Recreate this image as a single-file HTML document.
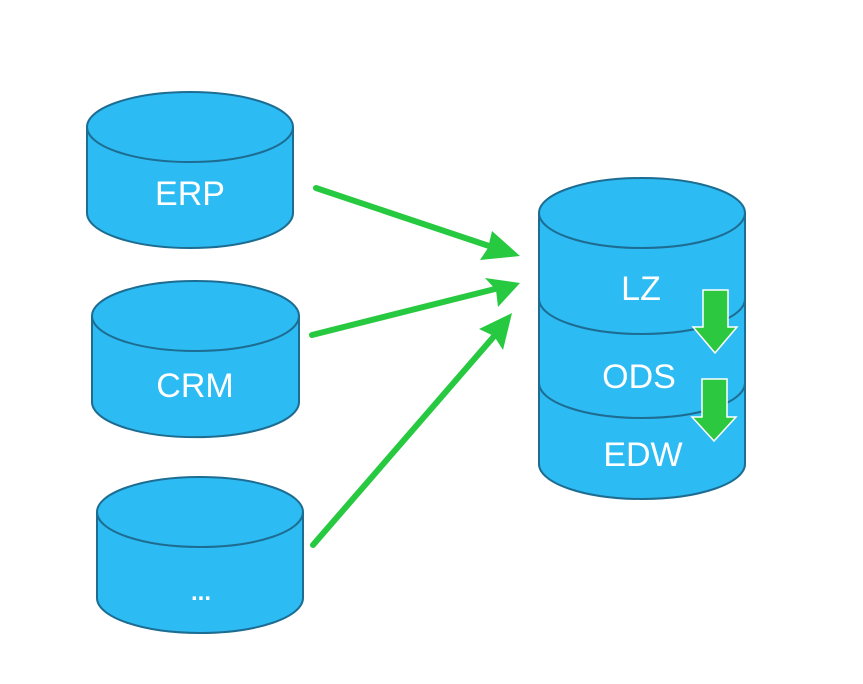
<!DOCTYPE html>
<html><head><style>body{margin:0;background:#fff}svg{display:block}</style></head><body>
<svg width="863" height="684" viewBox="0 0 863 684" xmlns="http://www.w3.org/2000/svg">
<defs>
<marker id="ah" markerWidth="10" markerHeight="10" refX="8" refY="5" orient="auto" markerUnits="userSpaceOnUse" viewBox="0 0 10 10">
</marker>
</defs>
<g fill="#2dbbf3" stroke="#1d6d92" stroke-width="2">
<!-- ERP -->
<path d="M87,127 L87,213 A103,35 0 0 0 293,213 L293,127"/>
<ellipse cx="190" cy="127" rx="103" ry="35"/>
<!-- CRM -->
<path d="M92,316 L92,402 A103,35 0 0 0 299,402 L299,316"/>
<ellipse cx="195.5" cy="316" rx="103.5" ry="35"/>
<!-- ... -->
<path d="M97,512 L97,598 A103,35 0 0 0 303,598 L303,512"/>
<ellipse cx="200" cy="512" rx="103" ry="35"/>
<!-- EDW -->
<path d="M539,380 L539,464 A103,35 0 0 0 745,464 L745,380 Z"/>
<!-- ODS -->
<path d="M539,298 L539,383 A103,35 0 0 0 745,383 L745,298 Z"/>
<!-- LZ -->
<path d="M539,213 L539,299 A103,35 0 0 0 745,299 L745,213"/>
<ellipse cx="642" cy="213" rx="103" ry="35"/>
</g>
<g fill="#fff" font-family="Liberation Sans, sans-serif" font-size="34" text-anchor="middle">
<text x="190" y="205">ERP</text>
<text x="195" y="397">CRM</text>
<text x="201" y="600" font-size="24" font-weight="bold">...</text>
<text x="641" y="300">LZ</text>
<text x="639" y="388">ODS</text>
<text x="643" y="466">EDW</text>
</g>
<g stroke="#27c940" stroke-width="6" stroke-linecap="round">
<line x1="316" y1="188" x2="495" y2="248"/>
<line x1="312" y1="335" x2="495" y2="289"/>
<line x1="313" y1="545" x2="496" y2="334"/>
</g>
<g fill="#27c940">
<polygon points="520,256 480,260 488,248 492,231"/>
<polygon points="520,283 498,307 496,290 485,278"/>
<polygon points="512,313 503,350 494,336 479,329"/>
</g>
<g fill="#2cc940" stroke="#fff" stroke-width="1.5">
<polygon points="703,290 728,290 728,327 737,327 715,353 693,327 703,327"/>
<polygon points="702,379 727,379 727,417 736,417 714,441 692,417 702,417"/>
</g>
</svg>
</body></html>
